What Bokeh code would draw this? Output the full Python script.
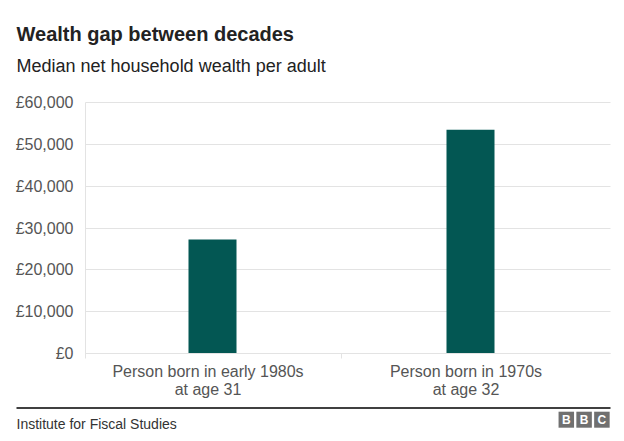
from bokeh.plotting import figure
from bokeh.models import Range1d, FixedTicker, ColumnDataSource
from bokeh.core.properties import value
from bokeh.embed import file_html
from bokeh.resources import INLINE

# ---- data ----
categories = ["Person born in early 1980s\nat age 31", "Person born in 1970s\nat age 32"]
wealth = [27250, 53500]
y_ticks = [0, 10000, 20000, 30000, 40000, 50000, 60000]
y_tick_labels = ["£0", "£10,000", "£20,000", "£30,000", "£40,000", "£50,000", "£60,000"]
title_text = "Wealth gap between decades"
subtitle_text = "Median net household wealth per adult"
source_text = "Institute for Fiscal Studies"
logo_letters = ["B", "B", "C"]

FONT = "Liberation Sans"
GRID = "#e3e3e3"
BAR = "#035753"
W, H = 620, 436

# layout geometry (pixels) -> scale: one category step = 258px, 60,000 = 251px
CAT_PX, CAT0_PX = 258.0, 212.0
BASE_PX, YMAX = 353.0, 60000.0
Y_PX = 251.0


def sx(px):
    return (px - CAT0_PX) / CAT_PX


def sy(py):
    return (BASE_PX - py) * YMAX / Y_PX


x_lo, x_hi = sx(85), sx(610)
label_shift = -4.5 / CAT_PX  # category labels sit slightly left of bar centres

xs = list(range(len(categories)))
src = ColumnDataSource(dict(x=xs, top=wealth))

p = figure(width=W, height=H, output_backend="svg", toolbar_location=None,
           x_range=Range1d(sx(0), sx(W)), y_range=Range1d(sy(H), sy(0)),
           min_border=0, min_border_left=0, min_border_right=0,
           min_border_top=0, min_border_bottom=0)
p.outline_line_color = None

p.vbar(x="x", top="top", width=48 / CAT_PX, source=src, fill_color=BAR, line_color=None)

# y axis (placed at chart-area left edge)
ya = p.yaxis[0]
ya.fixed_location = x_lo
ya.bounds = (0, YMAX)
ya.ticker = FixedTicker(ticks=y_ticks)
ya.major_label_overrides = {t: l for t, l in zip(y_ticks, y_tick_labels)}
ya.major_tick_line_color = None
ya.major_tick_out = 0
ya.major_tick_in = 0
ya.minor_tick_line_color = None
ya.axis_line_color = GRID
ya.major_label_standoff = 12
ya.major_label_text_font = FONT
ya.major_label_text_font_size = "16px"
ya.major_label_text_color = "#555555"

# x axis (placed at zero)
label_pos = [x + label_shift for x in xs]
xa = p.xaxis[0]
xa.fixed_location = 0
xa.bounds = (x_lo, x_hi)
xa.ticker = FixedTicker(ticks=label_pos, minor_ticks=[x_lo] + [x + 0.5 for x in xs[:-1]])
xa.major_label_overrides = {t: c for t, c in zip(label_pos, categories)}
xa.major_tick_line_color = None
xa.major_tick_in = 0
xa.major_tick_out = 5
xa.minor_tick_line_color = GRID
xa.minor_tick_in = 0
xa.minor_tick_out = 5
xa.axis_line_color = GRID
xa.major_label_standoff = 4
xa.major_label_text_font = FONT
xa.major_label_text_font_size = "16px"
xa.major_label_text_color = "#555555"
xa.major_label_text_line_height = 1.1

p.xgrid.grid_line_color = None
p.ygrid.grid_line_color = GRID
p.ygrid.ticker = FixedTicker(ticks=y_ticks)
p.ygrid.bounds = (0, YMAX)
p.ygrid.cross_bounds = (x_lo, x_hi)

# ---- header ----
p.text(x=[sx(16)], y=[sy(33)], text=[title_text], text_font=value(FONT), text_font_size="20px",
       text_font_style="bold", text_color="#222222", text_baseline="alphabetic")
p.text(x=[sx(16)], y=[sy(65)], text=[subtitle_text], text_font=value(FONT), text_font_size="18px",
       text_color="#222222", text_baseline="alphabetic")

# ---- footer ----
p.segment(x0=[sx(16)], y0=[sy(407.5)], x1=[sx(610)], y1=[sy(407.5)],
          line_color="black", line_width=1.5)
p.text(x=[sx(16)], y=[sy(423.5)], text=[source_text], text_font=value(FONT), text_font_size="14px",
       text_color="#333333", text_baseline="alphabetic")
logo_x = [sx(565.8 + 17.8 * i) for i in range(len(logo_letters))]
p.rect(x=logo_x, y=[sy(419.2)] * len(logo_letters), width=15.5, height=16,
       width_units="screen", height_units="screen", fill_color="#707070", line_color=None)
p.text(x=logo_x, y=[sy(419.8)] * len(logo_letters), text=logo_letters, text_font=value(FONT),
       text_font_size="12px", text_font_style="bold", text_color="white",
       text_align="center", text_baseline="middle")

open("out.html", "w").write(file_html(p, INLINE))
